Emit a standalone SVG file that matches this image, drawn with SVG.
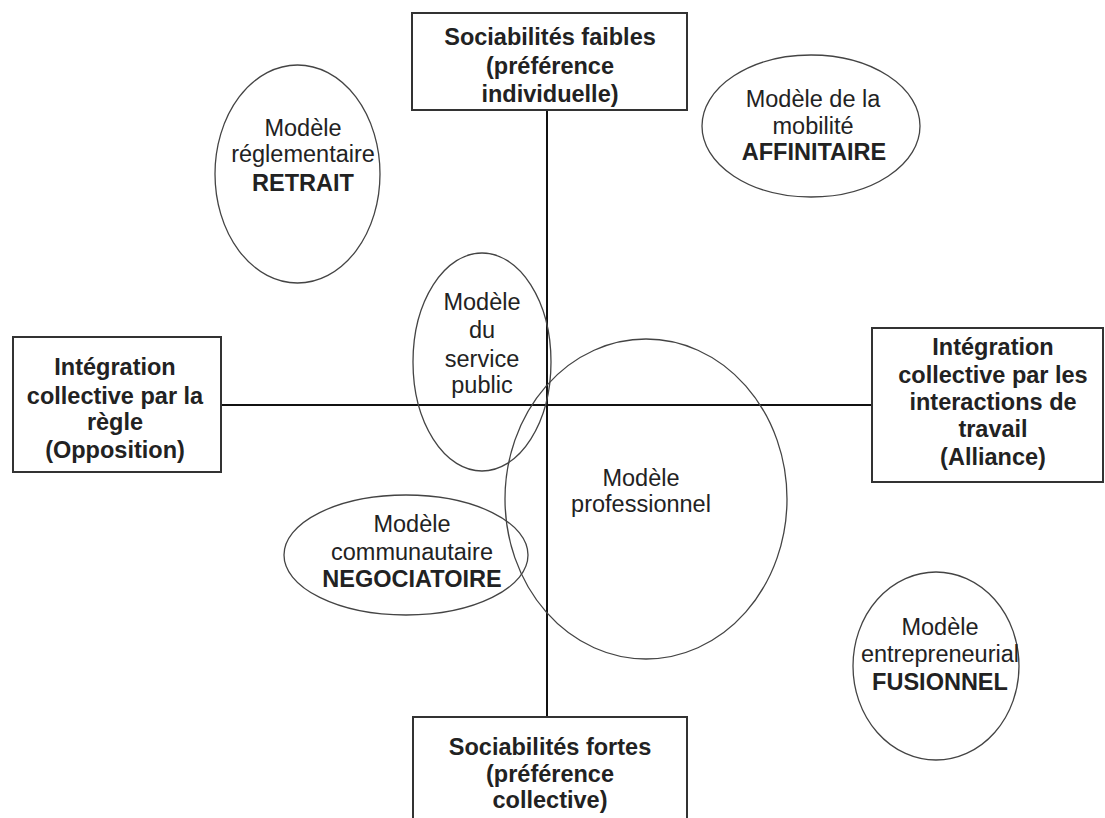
<svg xmlns="http://www.w3.org/2000/svg" width="1105" height="818" viewBox="0 0 1105 818">
<style>
.box{fill:#fff;stroke:#333;stroke-width:2}
.axis{stroke:#111;stroke-width:2;fill:none}
.ell{fill:none;stroke:#444;stroke-width:1.3}
text{font-family:"Liberation Sans",Arial,sans-serif;font-size:23.5px;fill:#222;text-anchor:middle}
.b{font-weight:bold}
</style>
<rect width="1105" height="818" fill="#fff"/>
<g id="connectors">
<line class="axis" x1="547" y1="110" x2="547" y2="717"/>
<line class="axis" x1="221" y1="405" x2="872" y2="405"/>
</g>
<g id="top">
<rect class="box" x="412" y="13" width="275" height="97"/>
<text class="b" x="550" y="45">Sociabilités faibles</text>
<text class="b" x="550" y="74">(préférence</text>
<text class="b" x="550" y="102">individuelle)</text>
</g>
<g id="bottom">
<rect class="box" x="413" y="717" width="274" height="110"/>
<text class="b" x="550" y="755">Sociabilités fortes</text>
<text class="b" x="550" y="782">(préférence</text>
<text class="b" x="550" y="808">collective)</text>
</g>
<g id="left">
<rect class="box" x="13" y="337" width="208" height="135"/>
<text class="b" x="115" y="375">Intégration</text>
<text class="b" x="115" y="404">collective par la</text>
<text class="b" x="115" y="430">règle</text>
<text class="b" x="115" y="458">(Opposition)</text>
</g>
<g id="right">
<rect class="box" x="872" y="328" width="231" height="154"/>
<text class="b" x="993" y="355">Intégration</text>
<text class="b" x="993" y="383">collective par les</text>
<text class="b" x="993" y="410">interactions de</text>
<text class="b" x="993" y="437">travail</text>
<text class="b" x="993" y="465">(Alliance)</text>
</g>
<g id="retrait">
<ellipse class="ell" cx="297.5" cy="174" rx="82.5" ry="109"/>
<text x="303" y="136">Modèle</text>
<text x="303" y="162">réglementaire</text>
<text class="b" x="303" y="191">RETRAIT</text>
</g>
<g id="affinitaire">
<ellipse class="ell" cx="811" cy="126" rx="109" ry="71"/>
<text x="813" y="107">Modèle de la</text>
<text x="813" y="134">mobilité</text>
<text class="b" x="814" y="160">AFFINITAIRE</text>
</g>
<g id="service-public">
<ellipse class="ell" cx="482" cy="362" rx="69" ry="109"/>
<text x="482" y="310">Modèle</text>
<text x="482" y="338">du</text>
<text x="482" y="367">service</text>
<text x="482" y="393">public</text>
</g>
<g id="professionnel">
<ellipse class="ell" cx="646" cy="499" rx="141" ry="160"/>
<text x="641" y="486">Modèle</text>
<text x="641" y="512">professionnel</text>
</g>
<g id="negociatoire">
<ellipse class="ell" cx="406" cy="555" rx="122" ry="60"/>
<text x="412" y="532">Modèle</text>
<text x="412" y="560">communautaire</text>
<text class="b" x="412" y="587">NEGOCIATOIRE</text>
</g>
<g id="fusionnel">
<ellipse class="ell" cx="936" cy="666" rx="83" ry="94"/>
<text x="940" y="635">Modèle</text>
<text x="940" y="662">entrepreneurial</text>
<text class="b" x="940" y="690">FUSIONNEL</text>
</g>
</svg>
